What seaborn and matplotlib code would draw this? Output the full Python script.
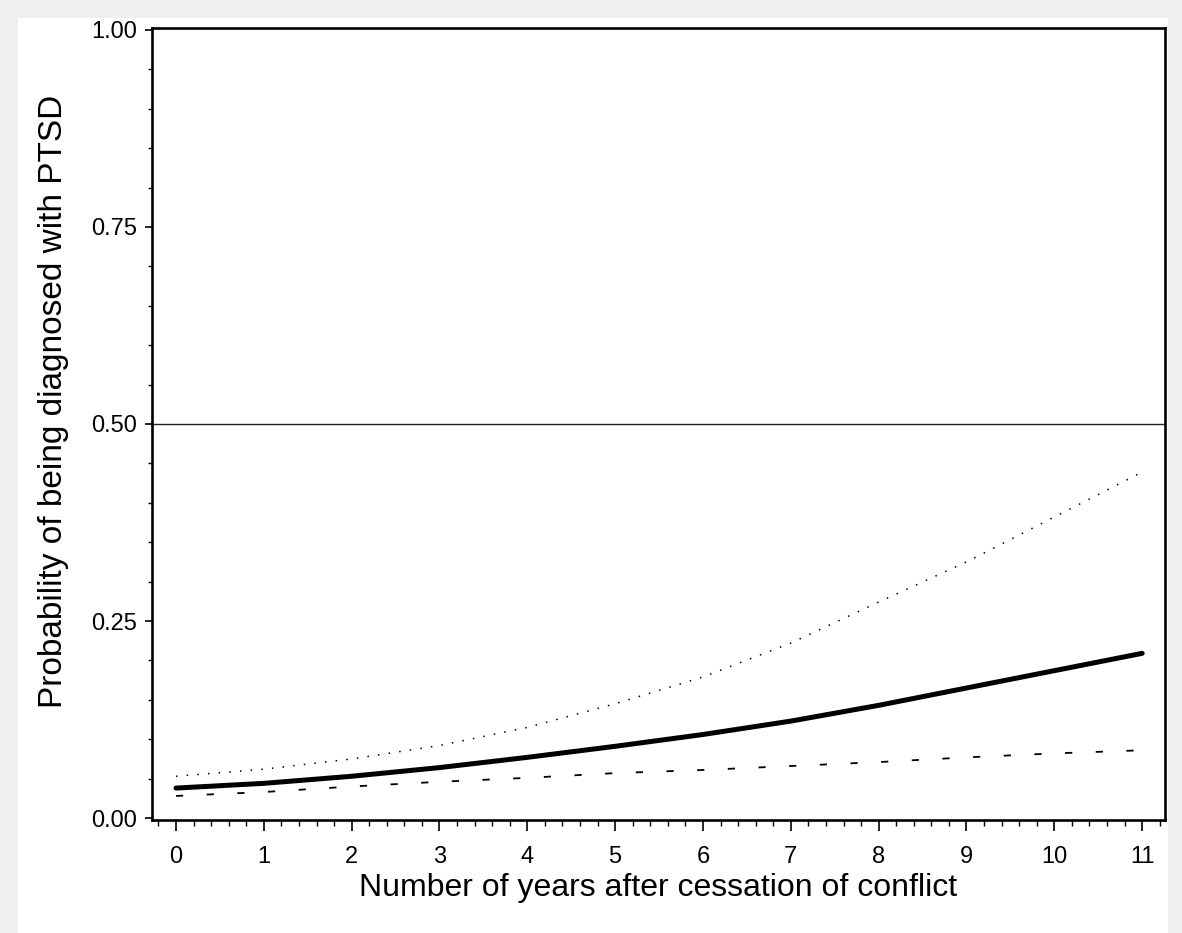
import matplotlib

matplotlib.use("Agg")
import matplotlib.pyplot as plt
import pandas as pd
import seaborn as sns
from matplotlib.patches import Rectangle
from matplotlib.ticker import MultipleLocator

# Years after cessation of conflict and predicted probability
years = [0, 1, 2, 3, 4, 5, 6, 7, 8, 9, 10, 11]
prob_fit = [0.038, 0.044, 0.053, 0.064, 0.077, 0.091, 0.106, 0.123, 0.143, 0.165, 0.187, 0.209]
prob_upper = [0.053, 0.062, 0.075, 0.092, 0.115, 0.145, 0.179, 0.222, 0.274, 0.325, 0.382, 0.439]
prob_lower = [0.028, 0.033, 0.040, 0.046, 0.051, 0.057, 0.061, 0.066, 0.071, 0.077, 0.082, 0.086]
reference_level = 0.50

y_ticks = [0.00, 0.25, 0.50, 0.75, 1.00]
y_tick_labels = ["0.00", "0.25", "0.50", "0.75", "1.00"]

df = pd.DataFrame({"years": years, "fit": prob_fit,
                   "upper": prob_upper, "lower": prob_lower})

sns.set_theme(style="white")
plt.rcParams["font.family"] = ["Liberation Sans", "DejaVu Sans"]

fig = plt.figure(figsize=(11.82, 9.33), dpi=100)
fig.patch.set_facecolor("#efefef")
# white inner panel, like the exported SAS graph
panel = Rectangle((18 / 1182, 0), 1150 / 1182, 1 - 18 / 933,
                  transform=fig.transFigure, facecolor="white",
                  edgecolor="none", zorder=-5)
fig.add_artist(panel)

ax = fig.add_axes([152 / 1182, 1 - 820 / 933, 1013 / 1182, 792 / 933])
ax.set_facecolor("white")

ax.axhline(reference_level, color="#222222", linewidth=1.0, zorder=1)

sns.lineplot(data=df, x="years", y="upper", ax=ax, color="black",
             linewidth=1.1, zorder=2)
ax.lines[-1].set_dashes((1.0, 6))
sns.lineplot(data=df, x="years", y="lower", ax=ax, color="black",
             linewidth=1.3, zorder=2)
ax.lines[-1].set_dashes((4, 13))
sns.lineplot(data=df, x="years", y="fit", ax=ax, color="black",
             linewidth=3.6, zorder=3)

ax.set_xlim(-0.273, 11.26)
ax.set_ylim(-0.0025, 1.0025)
ax.set_xticks(years)
ax.set_yticks(y_ticks)
ax.set_yticklabels(y_tick_labels)
ax.xaxis.set_minor_locator(MultipleLocator(0.2))
ax.yaxis.set_minor_locator(MultipleLocator(0.05))

ax.tick_params(axis="x", which="major", direction="out", length=8, width=1.2,
               pad=11, labelsize=17, color="black", labelcolor="black", bottom=True)
ax.tick_params(axis="x", which="minor", direction="out", length=4, width=1.0,
               bottom=True, color="black")
ax.tick_params(axis="y", which="major", direction="out", length=5, width=1.2,
               pad=6, labelsize=17, color="black", labelcolor="black", left=True)
ax.tick_params(axis="y", which="minor", direction="out", length=3, width=1.0,
               left=True, color="black")

for spine in ax.spines.values():
    spine.set_visible(True)
    spine.set_color("black")
    spine.set_linewidth(1.9)

ax.set_xlabel("Number of years after cessation of conflict", fontsize=23,
              labelpad=3, color="black")
ax.set_ylabel("Probability of being diagnosed with PTSD", fontsize=24,
              color="black")
# SAS put the y label a little above the axis middle
ax.yaxis.set_label_coords(-0.082, 0.528)

fig.savefig("out.png", dpi=100, facecolor=fig.get_facecolor())
plt.close(fig)
